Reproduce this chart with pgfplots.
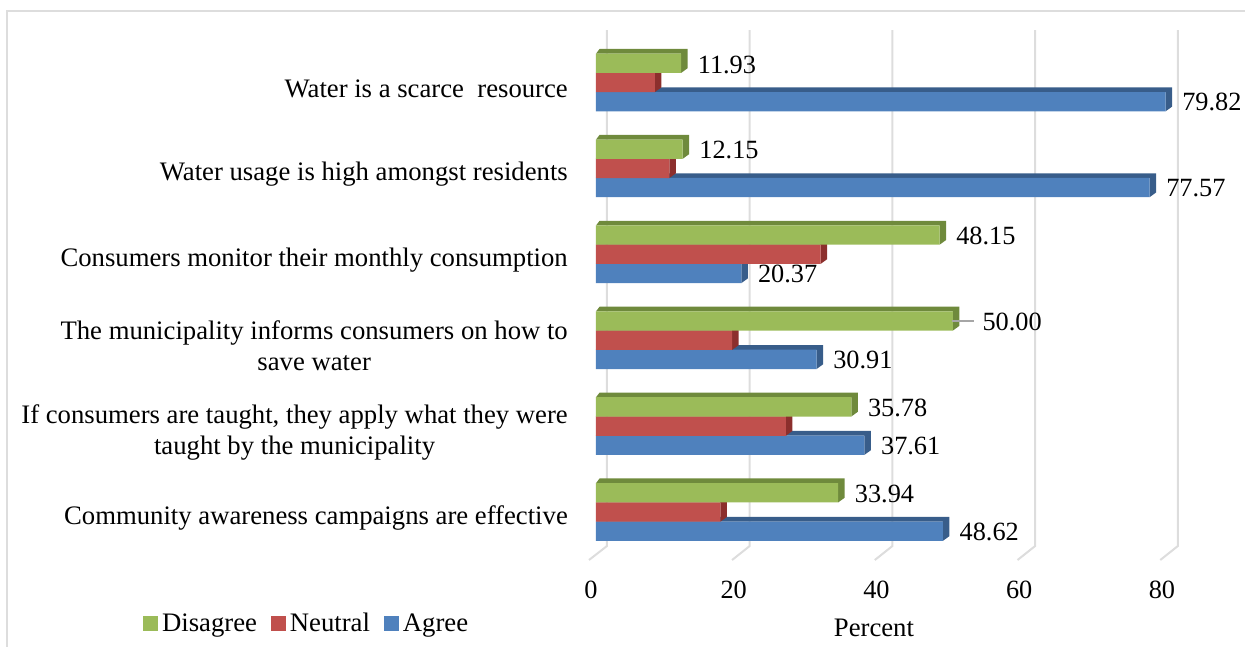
\documentclass[border=0pt]{standalone}
\usepackage{fontspec}
\setmainfont{Liberation Serif}
\usepackage{pgfplots}
\usepackage{pgfplotstable}
\pgfplotsset{compat=1.18}

\definecolor{agree}{HTML}{4F81BD}
\definecolor{agreedark}{HTML}{385D8A}
\definecolor{neutral}{HTML}{C0504D}
\definecolor{neutraldark}{HTML}{8C2F2D}
\definecolor{disagree}{HTML}{9BBB59}
\definecolor{disagreedark}{HTML}{6F8A3C}
\definecolor{gridgrey}{HTML}{DDDDDD}

\pgfplotstableread{
row Agree Neutral Disagree
0   48.62 17.44   33.94
1   37.61 26.61   35.78
2   30.91 19.09   50.00
3   20.37 31.48   48.15
4   77.57 10.28   12.15
5   79.82 8.25    11.93
}\barvalues

% top and side faces of one series, arguments: column, shift, colour
\newcommand\depthfaces[3]{%
  \pgfplotsforeachungrouped \r in {0,...,5}{%
    \pgfplotstablegetelem{\r}{#1}\of\barvalues
    \let\v\pgfplotsretval
    \pgfmathsetmacro\yt{\r+#2*0.2235+0.1118}%
    \pgfmathsetmacro\yb{\r+#2*0.2235-0.1118}%
    \pgfmathsetmacro\ytb{\yt+0.0547}%
    \pgfmathsetmacro\ybb{\yb+0.0547}%
    \pgfmathsetmacro\vb{\v+0.91}%
    \edef\tmp{\noexpand\addplot[fill=#3,draw=none,forget plot] coordinates
      {(0,\yt) (0.5,\ytb) (\vb,\ytb) (\vb,\ybb) (\v,\yb) (\v,\yt) (0,\yt)};}%
    \tmp
  }%
}

\pgfplotsset{
  frontbar/.style={
    xbar, bar width=19.3pt, draw=none, forget plot, fill=#1,
  },
  valuelabels/.style={
    nodes near coords,
    point meta=x,
    nodes near coords style={
      font=\fontsize{26.3}{31}\selectfont,
      anchor=west, inner sep=0pt, xshift=16.5pt, yshift=#1, text=black,
      /pgf/number format/fixed, /pgf/number format/zerofill,
      /pgf/number format/precision=2,
      /pgf/number format/assume math mode=true,
    },
  },
  gridline/.style={gridgrey, line width=2pt, forget plot},
}

\begin{document}
\begin{tikzpicture}[x=1pt,y=1pt]
  \path[use as bounding box] (0,0) rectangle (1245,646);
  \draw[gridgrey, line width=2pt] (7,-2) -- (7,635) -- (1247,635);
  \begin{axis}[
    at={(596pt,86pt)},
    anchor=south west,
    scale only axis,
    width=606.6pt,
    height=540pt,
    xmin=0, xmax=85,
    ymin=-0.5588, ymax=5.7276,
    clip=false,
    axis line style={draw=none},
    major tick length=0pt,
    font=\fontsize{26.7}{31}\selectfont,
    xtick={0,20,40,60,80},
    ytick={0,1,2,3,4,5},
    yticklabels={
      {Community awareness campaigns are effective},
      {If consumers are taught, they apply what they were\\taught by the municipality},
      {The municipality informs consumers on how to\\save water},
      {Consumers monitor their monthly consumption},
      {Water usage is high amongst residents},
      {Water is a scarce\ \ resource}},
    yticklabel style={align=center, anchor=east, inner sep=0pt, xshift=-28pt, yshift=-6pt},
    xticklabel style={anchor=center, inner sep=0pt, xshift=-5pt, yshift=-30pt,
      font=\fontsize{26.3}{31}\selectfont,
      /pgf/number format/assume math mode=true},
    xlabel={Percent},
    xlabel style={at={(axis cs:38.95,-1.35)}, anchor=center, inner sep=0pt},
    legend style={
      at={(axis cs:-63.47,-1.292)}, anchor=west, draw=none, fill=none,
      inner sep=0pt, legend columns=-1,
      /tikz/every odd column/.style={column sep=2.5pt},
      /tikz/every even column/.style={column sep=12pt},
    },
    legend cell align=left,
    legend image code/.code={\fill[#1] (0pt,-7pt) rectangle (14pt,7pt);},
  ]
    \addlegendimage{disagree}
    \addlegendentry{Disagree}
    \addlegendimage{neutral}
    \addlegendentry{Neutral}
    \addlegendimage{agree}
    \addlegendentry{Agree}

    \addplot[gridline] coordinates {(-0.98,-0.5588) (1.54,-0.3958) (1.54,5.611)};
    \addplot[gridline] coordinates {(19.07,-0.5588) (21.54,-0.3958) (21.54,5.611)};
    \addplot[gridline] coordinates {(39.07,-0.5588) (41.54,-0.3958) (41.54,5.611)};
    \addplot[gridline] coordinates {(59.07,-0.5588) (61.54,-0.3958) (61.54,5.611)};
    \addplot[gridline] coordinates {(79.07,-0.5588) (81.54,-0.3958) (81.54,5.611)};

    \depthfaces{Agree}{-1}{agreedark}
    \addplot[frontbar=agree, bar shift=-19.2pt, valuelabels=-19.5pt] table[y=row, x=Agree] {\barvalues};

    \depthfaces{Neutral}{0}{neutraldark}
    \addplot[frontbar=neutral, bar shift=0pt] table[y=row, x=Neutral] {\barvalues};

    \depthfaces{Disagree}{1}{disagreedark}
    \addplot[frontbar=disagree, bar shift=19.2pt, valuelabels=18pt,
      coordinate style/.condition={x==50}{xshift=13pt}] table[y=row, x=Disagree] {\barvalues};

    % leader line of the 50.00 label
    \addplot[color=black!35, line width=2pt, forget plot] coordinates {(49.88,2.22) (52.97,2.22)};
  \end{axis}
\end{tikzpicture}
\end{document}
